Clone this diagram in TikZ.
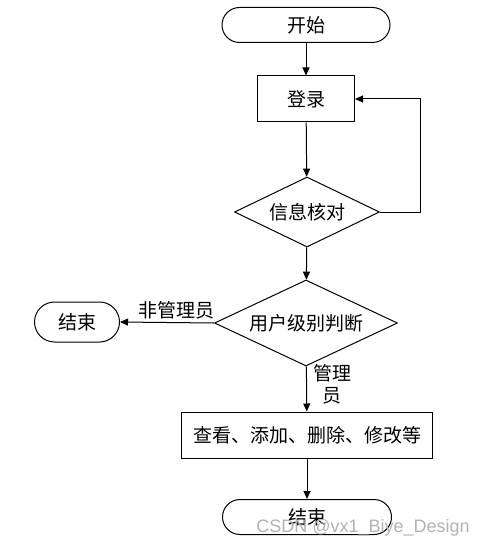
\documentclass[tikz,border=0pt]{standalone}
\usepackage{fontspec}
\newfontfamily\cjk{Noto Sans CJK SC}
\setsansfont{Liberation Sans}
\usepackage{tikz}
\usetikzlibrary{shapes.geometric,arrows.meta}

\begin{document}
\begin{tikzpicture}[x=1pt, y=-1pt,
        every node/.style={font=\cjk\fontsize{19}{22}\selectfont},
        terminal/.style={draw, line width=1pt, rounded corners=17.5pt, minimum height=35pt, inner sep=0pt},
        process/.style={draw, line width=1pt, inner sep=0pt},
        decision/.style={draw, line width=1pt, diamond, aspect=2.1, inner sep=0pt},
        arr/.style={line width=1pt, -{Triangle[length=8pt, width=7pt]}}]
        \useasboundingbox (0,0) rectangle (487,548);

        % Main flow
        \node[terminal, minimum width=168pt] (start) at (306,25) {开始};
        \node[process, minimum width=97pt, minimum height=46pt] (login) at (306,99) {登录};
        \node[decision, minimum width=145pt, minimum height=70pt] (check) at (307,212) {信息核对};
        \node[decision, minimum width=183pt, minimum height=86pt] (role) at (306,323) {用户级别判断};
        \node[terminal, minimum width=85pt, minimum height=40pt, rounded corners=20pt] (quit) at (77,322) {结束};
        \node[process, minimum width=251pt, minimum height=46pt] (ops) at (307,435) {查看、添加、删除、修改等};
        \node[terminal, minimum width=169pt] (stop) at (307,517) {结束};

        % Connectors
        \draw[arr] (start) -- (login);
        \draw[arr] (login) -- (check);
        \draw[arr] (check.east) -- ++(40,0) |- (login.east);
        \draw[arr] (check) -- (role);
        \draw[arr] (role.west) -- node[above, pos=0.4] {非管理员} (quit.east);
        \draw[arr] (role) -- node[right=6pt, pos=0.4, align=center, inner sep=0pt] {管理\\员} (ops);
        \draw[arr] (ops) -- (stop);

        % Watermark
        \node[font=\sffamily\fontsize{18}{20}\selectfont, text=black!30] (mark) at (363,528) {CSDN @vx1\_Biye\_Design};
    \end{tikzpicture}
\end{document}
